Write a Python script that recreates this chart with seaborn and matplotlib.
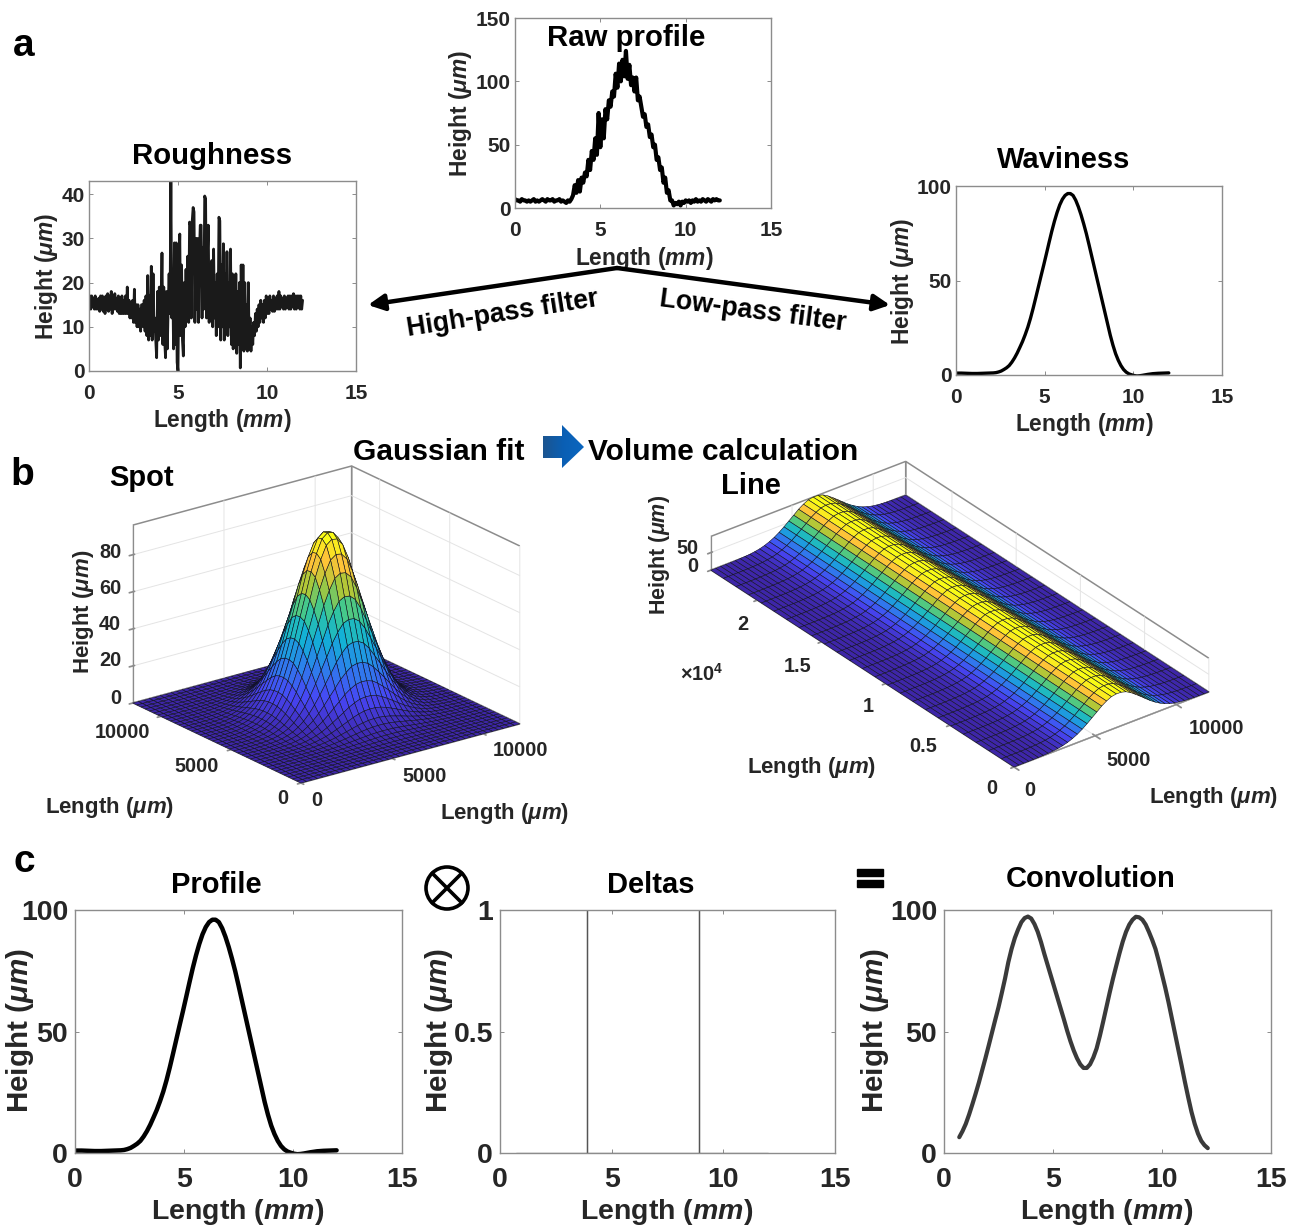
import numpy as np
import matplotlib
matplotlib.use("Agg")
import matplotlib.pyplot as plt
from matplotlib.colors import LinearSegmentedColormap, Normalize
from matplotlib.patches import Polygon, Rectangle, Circle
from mpl_toolkits.mplot3d import proj3d
import seaborn as sns

# ---------- data ----------
profile_y = [1.0, 1.0, 1.0, .95, .9, .85, .8, .8, .8, .85, .9, .95, 1, 1.05, 1.1, 1.25, 1.6, 2.1, 2.9, 3.8,
             5, 6.8, 9, 11.6, 14.6, 17.7, 21.3, 25.3, 30, 35.3, 41, 46.8, 52.6, 58.3, 64.2, 70.2, 76, 81.3,
             86, 90, 93, 95, 96, 96, 95, 92.5, 89, 84.8, 80, 74.8, 69, 63, 57, 51, 45, 39, 33, 27, 21, 15.8,
             11.3, 7.8, 5, 2.9, 1.5, .6, .1, -.3, -.5, -.4, -.2, .05, .3, .5, .7, .8, .9, .95, 1, 1.05, 1.1]
profile_x = np.linspace(0, 12, len(profile_y))
# cross-section of the fitted surfaces in panel b
fit_z = [0, 0, .1, .1, .2, .4, .9, 1.6, 2.7, 4.6, 7.2, 11.3, 16.8, 23.9, 32.8, 43.1, 54.4, 65.6, 77.2, 86.3,
         93.3, 95.8, 95.2, 91.3, 83.3, 73, 62.1, 50.6, 39.5, 29.8, 21.5, 14.7, 9.8, 6.2, 3.9, 2.3, 1.3, .7, .4, .2, .1]
conv_y = [6.5, 9, 12, 15.8, 20, 24.4, 29, 34, 39, 44.2, 49.5, 54.8, 60, 65.8, 71.8, 78.5, 84, 88.5, 92, 95,
          96.7, 97.3, 96.5, 94.2, 91, 86.8, 82, 77.5, 73, 68.5, 64, 59.5, 55, 50.3, 46, 42.2, 39, 36.5, 35, 35,
          36.5, 39.3, 43, 48.2, 54, 60, 66, 71.7, 77, 82.2, 87, 91, 94, 96, 97.2, 97, 96, 94, 91, 87.7,
          84, 79, 73.5, 68, 62, 55.5, 49, 42.5, 36, 29.3, 23, 17, 12, 8, 5, 3.2, 2]
conv_x = np.linspace(0.7, 12.1, len(conv_y))
delta_x = [0.7, 3.9, 3.9, 3.9, 8.9, 8.9, 8.9, 12.0]
delta_y = [0, 0, 1, 0, 0, 1, 0, 0]
raw_y = [7, 6, 6, 5, 7, 6, 6, 5, 6, 5, 6, 7, 5, 6, 5, 6, 7, 6, 5, 7, 6, 6, 7, 5, 6, 6, 7, 5, 6, 5, 4, 6, 5,
         7, 10, 18, 12, 22, 13, 24, 20, 28, 25, 38, 30, 45, 38, 55, 42, 75, 48, 70, 55, 78, 70, 85, 80, 92, 88,
         106, 95, 114, 100, 117, 104, 124, 102, 113, 97, 103, 92, 103, 85, 88, 80, 72, 74, 64, 66, 56, 58, 48,
         50, 38, 40, 30, 32, 20, 24, 12, 14, 6, 6, 2, 4, 3, 5, 2, 5, 4, 6, 5, 6, 4, 6, 5, 7, 5, 6, 5, 7, 6, 5,
         7, 6, 5, 7, 6, 7, 6, 6]
rough_left = [15, 17, 14, 17, 14.5, 16.5, 14, 17, 14, 16, 14, 16.5, 13.5, 17, 14, 17, 13.5, 16.5, 13, 17,
              14, 17.5, 13.5, 17, 14, 18, 13, 17, 14, 17.5, 14, 16.5, 13.5, 17, 13, 16.5, 13, 17, 13, 16,
              13, 17, 13, 19, 13, 16, 12, 15.5, 12, 16, 11, 18.5, 11, 15, 10, 15, 10, 14, 9, 15]
rough_mid = [15, 10, 16, 9, 17, 8, 21.6, 7, 17, 8, 23.7, 7, 22, 9, 12, 7, 3, 18, 7, 19, 8, 14, 26.7, 6, 19, 7, 3,
             18, 5, 15, 22, 13, 43, 12, 22, 5, 29, 6, 29, 2, 0, 22, 31, 8, 24, 7, 3.4, 20, 10, 23, 12, 26, 11,
             33.7, 33, 12, 34, 37, 36, 11, 30, 14, 30, 11, 26, 33, 33, 12, 28, 14, 39.6, 39, 12, 26, 33, 11, 22,
             13, 25, 10, 27.6, 12, 20, 8, 22, 10, 34.8, 34, 7, 24, 10, 28.8, 7, 22, 9, 27, 8, 20, 10, 27.6, 6,
             22, 5, 18, 6, 22, 4, 18, 6, 20, .7, 24, 6, 24, 4.5, 20, 5, 15, 4.5, 20, 5, 12, 4.5, 10, 6, 11, 8,
             13, 9, 14, 10, 15, 11, 16]
rough_right = [12, 15, 11, 16, 12, 17, 13, 16, 13, 17, 14, 16, 13.5, 17, 13.5, 16.5, 14, 17, 14, 18,
               14, 17, 14.5, 16.5, 14, 17, 14, 16.5, 14.5, 17, 14, 17, 14, 17, 14.5, 17.5, 14, 17, 14, 17,
               14.5, 17, 14, 17, 14, 16]
surface_y_um = [0, 23600]
parula_stops = ["#3e26a8", "#4746f5", "#2d80eb", "#12b1d6", "#37c896", "#abc738", "#fec338", "#f9fb15"]

height_label = r"Height ($\mu m$)"
length_mm = r"Length ($mm$)"
length_um = r"Length ($\mu m$)"

# ---------- style ----------
sns.set_theme(style="white")
W, H = 1295, 1229
plt.rcParams.update({
    "font.family": ["Liberation Sans", "DejaVu Sans"],
    "font.weight": "bold",
    "mathtext.fontset": "custom",
    "mathtext.rm": "Liberation Sans:bold",
    "mathtext.it": "Liberation Sans:italic:bold",
    "mathtext.bf": "Liberation Sans:bold",
    "grid.color": "#e4e4e4",
    "grid.linewidth": 0.7,
    "axes3d.grid": True,
})
TXT = "#262626"
EDGE = "#8c8c8c"
parula = LinearSegmentedColormap.from_list("parula", parula_stops)

fig = plt.figure(figsize=(W / 100, H / 100), dpi=100, facecolor="white")


def box(l, t, r, b, **kw):
    return fig.add_axes([l / W, 1 - b / H, (r - l) / W, (b - t) / H], **kw)


def panel(l, t, r, b, x, y, ylim, yticks, fs, lw, color="black", xpad=9.5, ypad=3, **line_kw):
    ax = box(l, t, r, b)
    sns.lineplot(x=x, y=y, ax=ax, color=color, lw=lw, sort=False, estimator=None, **line_kw)
    ax.set_xlim(0, 15)
    ax.set_ylim(*ylim)
    ax.set_xticks([0, 5, 10, 15])
    ax.set_yticks(yticks)
    ax.set_xlabel("")
    ax.set_ylabel("")
    ax.tick_params(axis="both", direction="in", length=3, width=0.7, color=EDGE, top=True, right=True,
                   labelsize=fs, labelcolor=TXT, bottom=True, left=True)
    ax.tick_params(axis="x", pad=xpad)
    ax.tick_params(axis="y", pad=ypad)
    for s in ax.spines.values():
        s.set_color(EDGE)
        s.set_linewidth(1.0)
    return ax


# panel a
raw_x = np.linspace(0, 12, len(raw_y))
panel(515, 18, 771, 208, raw_x, raw_y, (0, 150), [0, 50, 100, 150], 15, 3.0)
rough_x = np.concatenate([np.linspace(0, 2.95, len(rough_left)),
                          np.linspace(3, 9.65, len(rough_mid)),
                          np.linspace(9.7, 12, len(rough_right))])
rough_y = rough_left + rough_mid + rough_right
panel(89, 181, 356, 371, rough_x, rough_y, (0, 43), [0, 10, 20, 30, 40], 15, 2.0, color="#1a1a1a")
panel(956, 186, 1222, 375, profile_x, profile_y, (0, 100), [0, 50, 100], 15, 2.4)

# panel c
panel(75, 910, 402, 1153, profile_x, profile_y, (0, 100), [0, 50, 100], 20.5, 3.2, xpad=10, ypad=5)
dax = panel(500, 910, 835, 1153, delta_x, delta_y, (0, 1), [0, 0.5, 1], 20.5, 0.9, color="#555555", xpad=10, ypad=5)
dax.set_yticklabels(["0", "0.5", "1"])
panel(944, 910, 1271, 1153, conv_x, conv_y, (0, 100), [0, 50, 100], 20.5, 3.0, color="#3a3a3a", xpad=10, ypad=5)


# panel b: 3-D surfaces
def surface_axes(x_um, y_um, Z, xlim, ylim, zlim, aspect, elev, azim, xt, yt, zt, left_px, right_px, front_px):
    ax = fig.add_axes([0.2, 0.2, 0.4, 0.4], projection="3d", proj_type="ortho", facecolor="none")
    ax.view_init(elev=elev, azim=azim)
    ax.set_box_aspect(aspect)
    ax.set_xlim(*xlim, view_margin=0)
    ax.set_ylim(*ylim, view_margin=0)
    ax.set_zlim(*zlim, view_margin=0)
    X, Y = np.meshgrid(x_um, y_um, indexing="ij")
    colors = parula(Normalize(0, 90)(Z))
    ax.plot_surface(X, Y, Z, facecolors=colors, shade=False, edgecolor="#101020", linewidth=0.4,
                    rcount=Z.shape[0], ccount=Z.shape[1], antialiased=True)
    ax.set_xticks(xt)
    ax.set_yticks(yt)
    ax.set_zticks(zt)
    ax.set_xticklabels([])
    ax.set_yticklabels([])
    ax.set_zticklabels([])
    for a in (ax.xaxis, ax.yaxis, ax.zaxis):
        a.set_pane_color((1, 1, 1, 1))
        a.pane.set_edgecolor(EDGE)
        a.pane.set_linewidth(1.1)
        a.line.set_color(EDGE)
        a.line.set_linewidth(0.9)
    ax.tick_params(axis="both", color=EDGE, length=3)
    # fit the axes so that the box corners land where they are in the reference
    for _ in range(3):
        fig.canvas.draw()
        ax.apply_aspect()
        M = ax.get_proj()

        def disp(px, py, pz):
            u, v, _w = proj3d.proj_transform(px, py, pz, M)
            return ax.transData.transform((u, v))
        pL = disp(xlim[0], ylim[1], zlim[0])
        pR = disp(xlim[1], ylim[0], zlim[0])
        pF = disp(xlim[0], ylim[0], zlim[0])
        k = (right_px[0] - left_px[0]) / (pR[0] - pL[0])
        pos = ax.get_position()
        w = pos.width * k
        h = pos.height * k
        cx, cy = (pos.x0 + pos.width / 2) * W, (pos.y0 + pos.height / 2) * H
        fx = cx + (pF[0] - cx) * k
        fy = cy + (pF[1] - cy) * k
        cx += front_px[0] - fx
        cy += (H - front_px[1]) - fy
        ax.set_position([cx / W - w / 2, cy / H - h / 2, w, h])
    return ax


fit_arr = np.array(fit_z)
um = profile_x[::2] * 1000
spot_Z = np.outer(fit_arr, fit_arr) / 96
surface_axes(um, um, spot_Z, (0, 12000), (0, 12000), (0, 96), (274, 279.5, 190.6), 21, -127,
             [0, 5000, 10000], [0, 5000, 10000], [0, 20, 40, 60, 80],
             (133, 703), (520, 724), (301, 783))

line_y = np.linspace(*surface_y_um, 25)
line_Z = np.outer(fit_arr, np.ones(len(line_y)))
surface_axes(um, line_y, line_Z, (0, 12000), tuple(surface_y_um), (0, 96), (246, 497, 39), 30, -127.6,
             [0, 5000, 10000], [0, 5000, 10000, 15000, 20000], [0, 50],
             (711, 570), (1209, 692), (1014, 767))

# overlay in picture pixels for free text and schematic marks
ov = box(0, 0, W, H, facecolor="none", zorder=20)
ov.set_axis_off()


def T(x, y, s, fs, color="black", rot=0):
    ov.text(x, y, s, fontsize=fs, color=color, rotation=rot, ha="center", va="center",
            fontweight="bold", rotation_mode="anchor")


for x, y, s in [(24, 46, "a"), (22, 475, "b"), (24, 862, "c")]:
    T(x, y, s, 28)
for x, y, s, fs in [(626, 38, "Raw profile", 21.2), (212, 156, "Roughness", 21.2), (1064, 160, "Waviness", 21),
                    (216, 885, "Profile", 21), (651, 885, "Deltas", 21), (1091, 879, "Convolution", 21),
                    (141, 478, "Spot", 21), (439, 452, "Gaussian fit", 21.5), (723, 452, "Volume calculation", 21.5),
                    (751, 486, "Line", 21)]:
    T(x, y, s, fs)
for x, y in [(644, 258), (222, 420), (1084, 424)]:
    T(x, y, length_mm, 16.4, TXT)
for x, y in [(460, 113), (46, 276), (902, 281)]:
    T(x, y, height_label, 16.4, TXT, rot=90)
for x in (238, 667, 1107):
    T(x, 1212, length_mm, 20.5, TXT)
for x in (20, 439, 875):
    T(x, 1031, height_label, 21.3, TXT, rot=90)

# 3-D tick labels
for x, y, s in [(110, 553, "80"), (110, 588, "60"), (110, 624, "40"), (110, 661, "20"), (116, 698, "0"),
                (122, 733, "10000"), (197, 766, "5000"), (283, 799, "0"),
                (317, 801, "0"), (425, 776, "5000"), (521, 750, "10000"),
                (687, 548, "50"), (693, 566, "0"), (743, 625, "2"), (798, 667, "1.5"), (868, 706, "1"),
                (923, 747, "0.5"), (992, 788, "0"), (1030, 791, "0"), (1129, 760, "5000"), (1216, 728, "10000")]:
    T(x, y, s, 14.3, TXT)
T(702, 674, r"$\times$10$^{4}$", 14.3, TXT)
T(84, 612, height_label, 16, TXT, rot=90)
T(659, 555, height_label, 15.5, TXT, rot=90)
for x, y in [(110, 808), (505, 813), (812, 768), (1214, 798)]:
    T(x, y, length_um, 16, TXT)

# filter arrows
for tip in [(368, 305), (890, 305)]:
    ov.annotate("", xy=tip, xytext=(617, 268),
                arrowprops=dict(arrowstyle="-|>", color="black", lw=3.2, mutation_scale=24, shrinkA=0, shrinkB=0))
T(503, 314, "High-pass filter", 19.2, rot=9)
T(753, 311, "Low-pass filter", 19.2, rot=-7.5)

# blue step arrow with gradient
arrow = Polygon([(543, 436), (562, 436), (562, 425), (584, 447), (562, 468), (562, 458), (543, 458)],
                closed=True, transform=ov.transData, facecolor="none", edgecolor="none")
ov.add_patch(arrow)
blue = LinearSegmentedColormap.from_list("b", ["#1c5590", "#0a5fb4", "#0a66bf"])
img = ov.imshow(np.linspace(0, 1, 64).reshape(1, -1), extent=(543, 584, 468, 425), cmap=blue, aspect="auto")
img.set_clip_path(arrow)

# convolution and equals symbols
ov.add_patch(Circle((447, 888), 21, fill=False, ec="black", lw=2.6))
d = 21 * 0.707
ov.plot([447 - d, 447 + d], [888 - d, 888 + d], color="black", lw=2.6)
ov.plot([447 - d, 447 + d], [888 + d, 888 - d], color="black", lw=2.6)
ov.add_patch(Rectangle((857, 869), 26, 7, color="black"))
ov.add_patch(Rectangle((857, 880), 26, 6.5, color="black"))
ov.set_xlim(0, W)
ov.set_ylim(H, 0)

fig.savefig("out.png", dpi=100, facecolor="white")
